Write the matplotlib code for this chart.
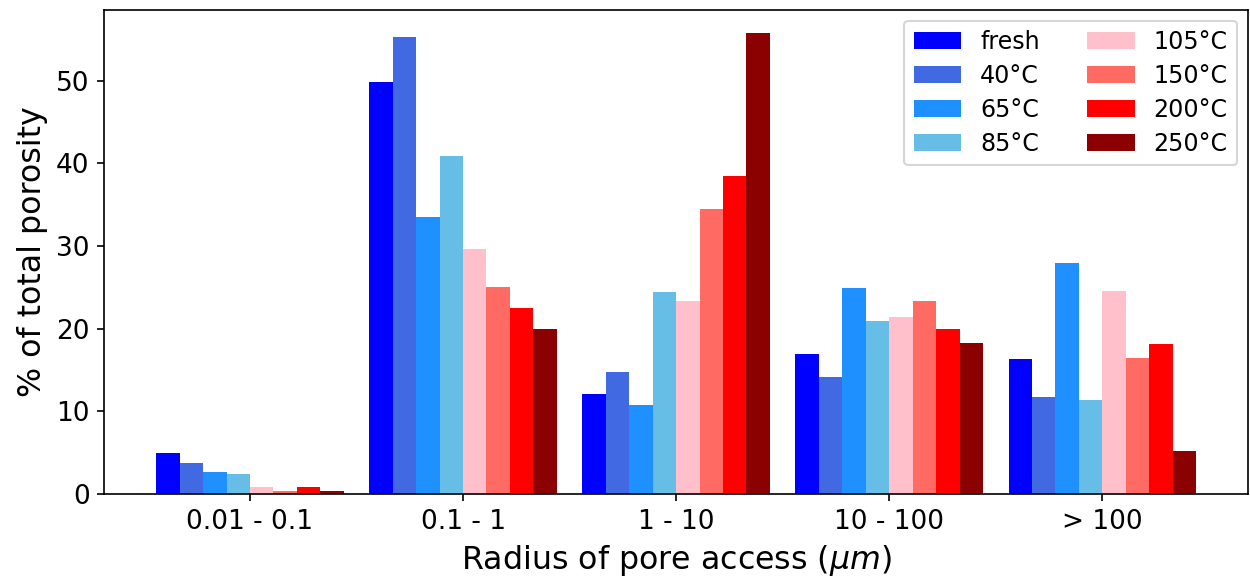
import numpy as np
import matplotlib.pyplot as plt

categories = ["0.01 - 0.1", "0.1 - 1", "1 - 10", "10 - 100", "> 100"]
labels = ["fresh", "40°C", "65°C", "85°C", "105°C", "150°C", "200°C", "250°C"]
colors = ["blue", "royalblue", "dodgerblue", "#66BDE6",
          "pink", "#FF6A63", "red", "darkred"]

fresh = [5.0, 49.9, 12.1, 16.9, 16.3]
t40 = [3.7, 55.3, 14.8, 14.1, 11.8]
t65 = [2.7, 33.5, 10.8, 24.9, 27.9]
t85 = [2.4, 40.9, 24.4, 20.9, 11.4]
t105 = [0.9, 29.7, 23.3, 21.4, 24.6]
t150 = [0.4, 25.1, 34.5, 23.3, 16.5]
t200 = [0.8, 22.5, 38.5, 20.0, 18.1]
t250 = [0.35, 20.0, 55.8, 18.3, 5.2]

series = [fresh, t40, t65, t85, t105, t150, t200, t250]

dpi = 150
fig, ax = plt.subplots(figsize=(1250 / dpi, 578 / dpi), dpi=dpi)
fig.subplots_adjust(left=0.0834, right=0.9984, top=0.983, bottom=0.1453)

x = np.arange(len(categories))
w = 0.11
for i, vals in enumerate(series):
    ax.bar(x + (i - 3.5) * w, vals, w, color=colors[i], label=labels[i])

ax.set_xticks(x)
ax.set_xticklabels(categories)
ax.tick_params(labelsize=12.7)
ax.set_xlabel(r"Radius of pore access ($\mu m$)", fontsize=15.2)
ax.set_ylabel("% of total porosity", fontsize=15.2)
ax.legend(ncol=2, fontsize=11.4, loc="upper right", labelspacing=0.42,
          borderaxespad=0.45)

fig.savefig("out.png", dpi=dpi)
